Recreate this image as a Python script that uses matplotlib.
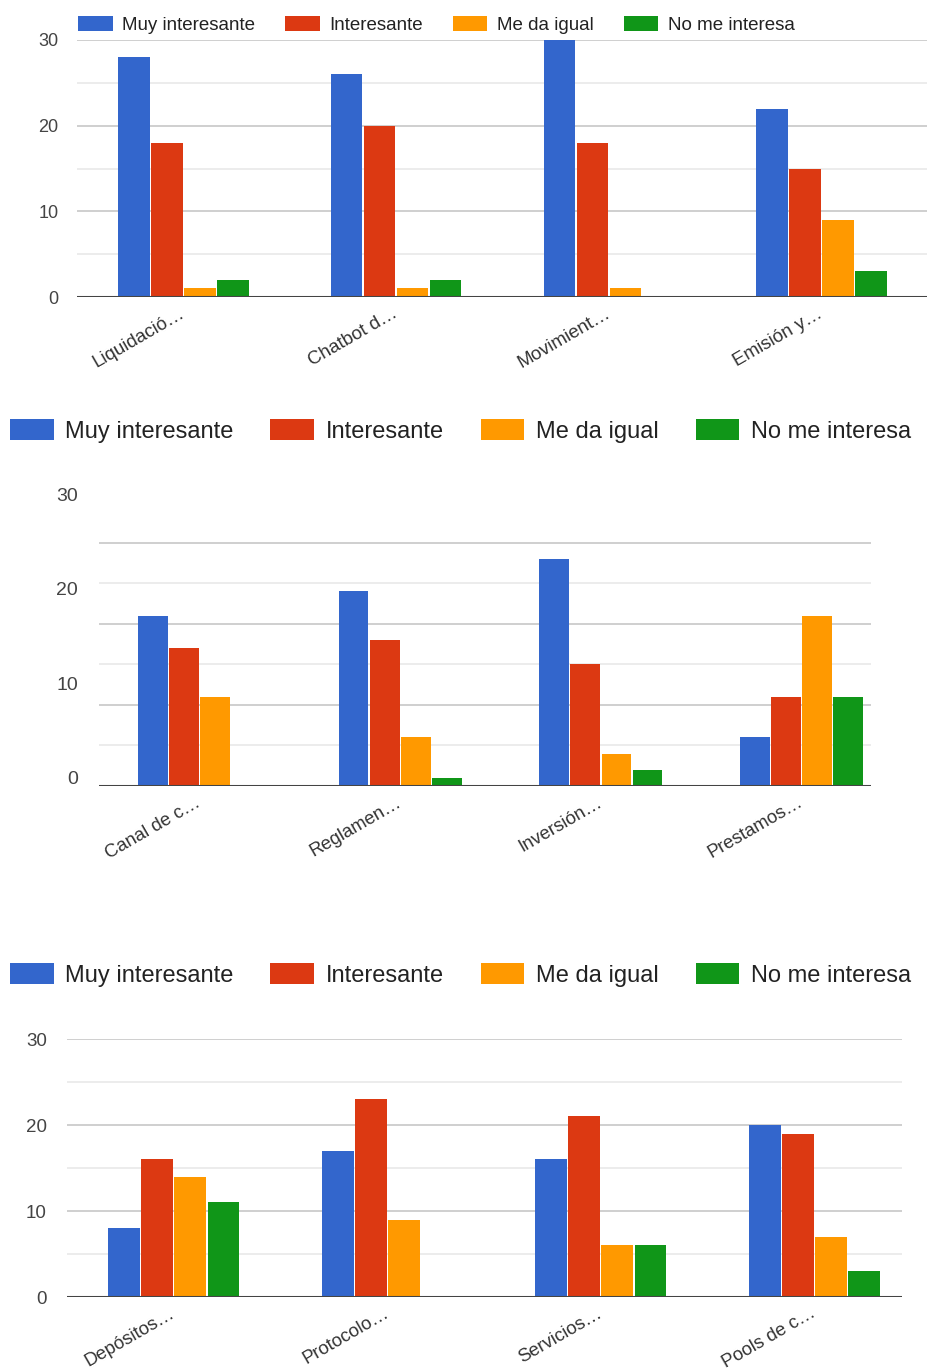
import matplotlib.pyplot as plt
import numpy as np

plt.rcParams['font.family'] = ['Liberation Sans', 'DejaVu Sans']

# Series names and colors (Google Charts palette)
series = ['Muy interesante', 'Interesante', 'Me da igual', 'No me interesa']
colors = ['#3366cc', '#dc3912', '#ff9900', '#109618']

# Chart 1
cats1 = ['Liquidació…', 'Chatbot d…', 'Movimient…', 'Emisión y…']
muy1 = [28, 26, 30, 22]
int1 = [18, 20, 18, 15]
igual1 = [1, 1, 1, 9]
no1 = [2, 2, 0, 3]

# Chart 2
cats2 = ['Canal de c…', 'Reglamen…', 'Inversión…', 'Prestamos…']
muy2 = [21, 24, 28, 6]
int2 = [17, 18, 15, 11]
igual2 = [11, 6, 4, 21]
no2 = [0, 1, 2, 11]

# Chart 3
cats3 = ['Depósitos…', 'Protocolo…', 'Servicios…', 'Pools de c…']
muy3 = [8, 17, 16, 20]
int3 = [16, 23, 21, 19]
igual3 = [14, 9, 6, 7]
no3 = [11, 0, 6, 3]

W, H = 928, 1370
fig = plt.figure(figsize=(W / 100, H / 100), dpi=100)


def px_axes(left, top, right, bottom):
    return fig.add_axes([left / W, 1 - bottom / H, (right - left) / W, (bottom - top) / H])


def draw(ax, cats, data, xmax, ymax, tick_pos, tick_fs, label_fs, ypad):
    x = np.arange(len(cats))
    step = 0.155
    for k, vals in enumerate(data):
        ax.bar(x + (k - 1.5) * step, vals, width=step * 0.96, color=colors[k],
               edgecolor='none', zorder=3, label=series[k])
    ax.set_xlim(-0.5, xmax)
    ax.set_ylim(0, ymax)
    # gridlines every 5, darker every 10
    for v in range(5, 31, 5):
        ax.axhline(v, color='#cccccc' if v % 10 == 0 else '#ebebeb', lw=1.3, zorder=1)
    ax.axhline(0, color='#444444', lw=2.2, zorder=4)
    for s in ax.spines.values():
        s.set_visible(False)
    ax.set_yticks(tick_pos)
    ax.set_yticklabels(['0', '10', '20', '30'])
    ax.tick_params(axis='y', length=0, pad=ypad, labelsize=tick_fs, labelcolor='#444444')
    ax.set_xticks(x)
    ax.set_xticklabels(cats, rotation=30, ha='right', va='center', rotation_mode='anchor')
    ax.tick_params(axis='x', length=0, pad=11, labelsize=label_fs, labelcolor='#333333')


def legend(ax, x0, yc, fs, hl, hh, sp):
    ax.legend(loc='center left', bbox_to_anchor=(x0 / W, 1 - yc / H),
              bbox_transform=fig.transFigure, ncol=4, frameon=False,
              fontsize=fs, handlelength=hl, handleheight=hh, handletextpad=0.5,
              columnspacing=sp, borderpad=0, borderaxespad=0, labelcolor='#222222')


ax1 = px_axes(77, 40, 928, 297)
draw(ax1, cats1, [muy1, int1, igual1, no1], 3.5, 30, [0, 10, 20, 30], 13, 13.5, 13.5)
legend(ax1, 78, 25, 13.5, 1.85, 0.9, 1.6)

ax2 = px_axes(99, 490, 871, 786)
draw(ax2, cats2, [muy2, int2, igual2, no2], 3.5 - 31 / 200.7, (786 - 490) / 8.11,
     [1.1, 12.7, 24.3, 35.9], 14, 13.3, 15)
legend(ax2, 10, 431, 17, 1.85, 1.0, 1.55)

ax3 = px_axes(67, 1039, 902, 1297)
draw(ax3, cats3, [muy3, int3, igual3, no3], 3.5 - 19 / 213.3, 30, [0, 10, 20, 30], 13.5, 13.3, 14.5)
legend(ax3, 10, 975, 17, 1.85, 1.0, 1.55)

plt.savefig('out.png', dpi=100)
